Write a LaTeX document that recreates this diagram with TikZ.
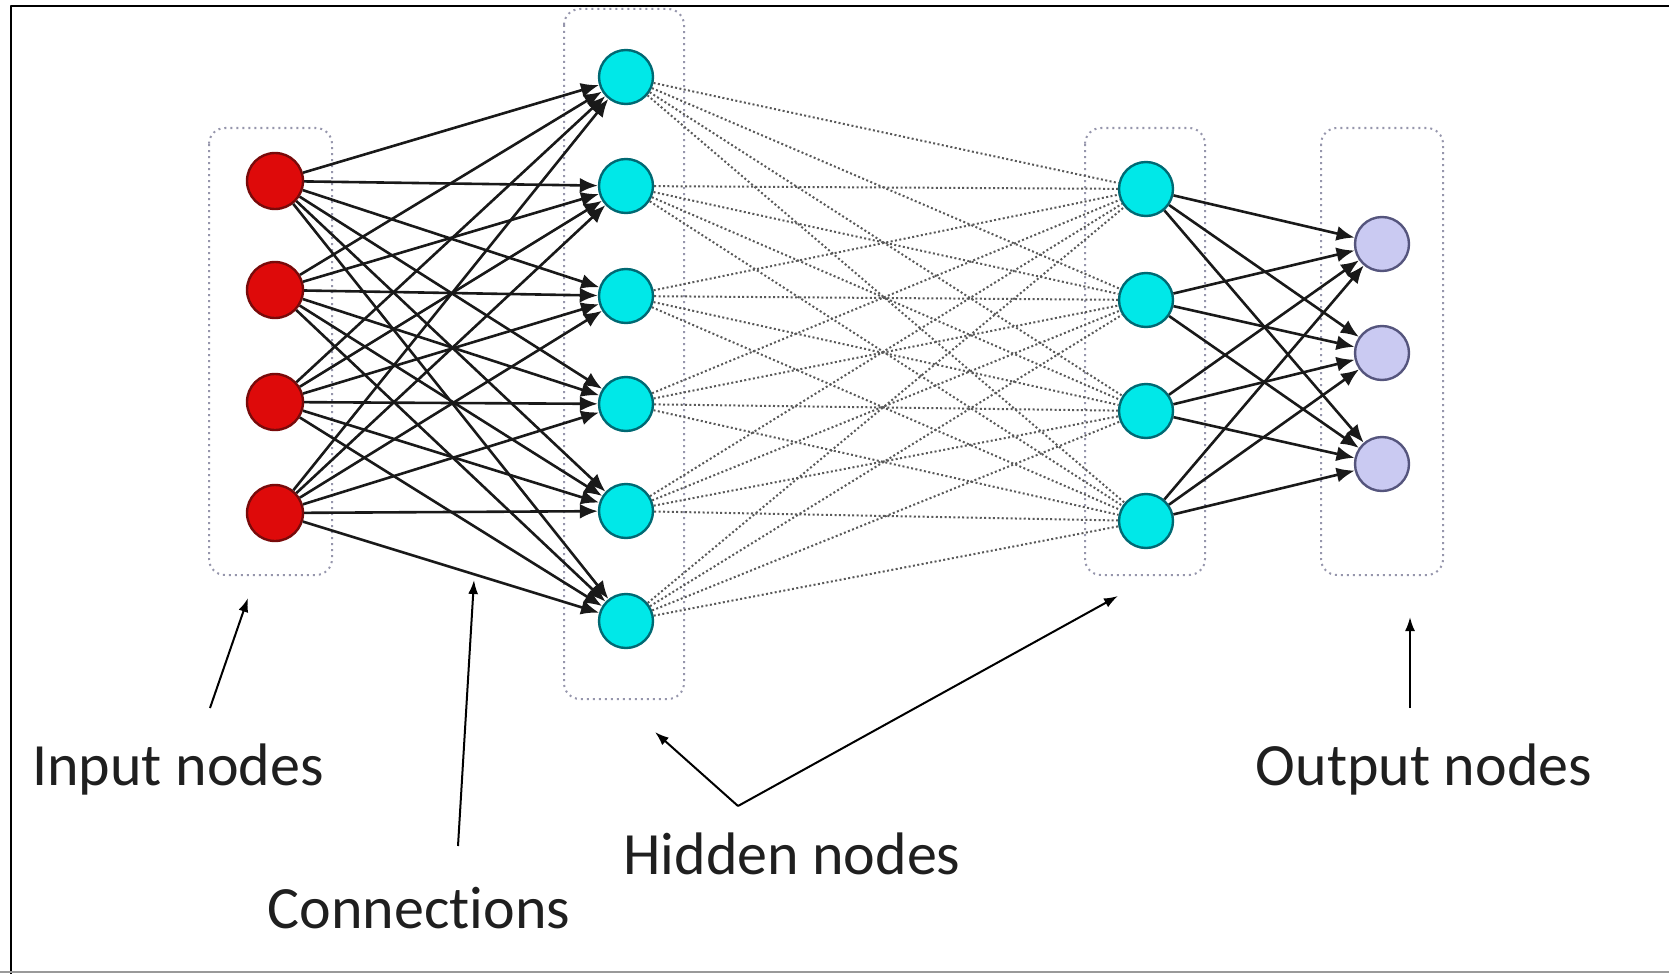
\documentclass[tikz,border=0pt]{standalone}
\usepackage{fontspec}
\setmainfont[Ligatures=NoCommon]{Carlito}
\usetikzlibrary{arrows.meta}

\definecolor{inred}{RGB}{222,10,10}
\definecolor{inredd}{RGB}{120,10,10}
\definecolor{hidcyan}{RGB}{0,232,232}
\definecolor{hidcyand}{RGB}{0,105,115}
\definecolor{outlav}{RGB}{202,202,242}
\definecolor{outlavd}{RGB}{85,85,125}
\definecolor{boxgray}{RGB}{150,150,172}

\tikzset{
  neuron/.style={circle,draw,line width=1.2pt,minimum size=27pt,inner sep=0pt},
  innode/.style={neuron,fill=inred,draw=inredd,minimum size=28pt},
  hidnode/.style={neuron,fill=hidcyan,draw=hidcyand},
  outnode/.style={neuron,fill=outlav,draw=outlavd},
  layerbox/.style={draw=boxgray,line width=1pt,dotted,rounded corners=8pt},
  conn/.style={line width=1.3pt,black!90,-{Latex[length=9pt,width=7.5pt]}},
  weakconn/.style={line width=1pt,black!65,dash pattern=on 1pt off 1.2pt},
  pointer/.style={line width=1pt,-{Latex[length=7pt,width=5pt]}},
  lbl/.style={font=\fontsize{30}{36}\selectfont,text=black!88}
}

\begin{document}
\begin{tikzpicture}[x=0.5pt,y=-0.5pt,line join=round]
\useasboundingbox (0,0) rectangle (1669,974);
% frame
\draw[line width=1.4pt] (11,974) -- (11,6) -- (1669,6);
\draw[line width=1.2pt,black!40] (0,972) -- (1669,972);

% layer boxes
\draw[layerbox] (209,128) rectangle (332,575);
\draw[layerbox] (564,9) rectangle (684,699);
\draw[layerbox] (1085,128) rectangle (1205,575);
\draw[layerbox] (1321,128) rectangle (1443,575);

% nodes
\foreach \i/\y in {1/181,2/290,3/402,4/513}
  \node[innode] (in\i) at (275,\y) {};
\foreach \i/\y in {1/77,2/186,3/296,4/404,5/511,6/621}
  \node[hidnode] (ha\i) at (626,\y) {};
\foreach \i/\y in {1/189,2/300,3/411,4/521}
  \node[hidnode] (hb\i) at (1146,\y) {};
\foreach \i/\y in {1/244,2/353,3/464}
  \node[outnode] (out\i) at (1382,\y) {};

% connections
\foreach \i in {1,...,6}
  \foreach \j in {1,...,4}
    \draw[weakconn] (ha\i) -- (hb\j);
\foreach \i in {1,...,4}
  \foreach \j in {1,...,6}
    \draw[conn] (in\i) -- (ha\j);
\foreach \i in {1,...,4}
  \foreach \j in {1,...,3}
    \draw[conn] (hb\i) -- (out\j);

% labels
\node[lbl] (linput) at (178,769) {Input nodes};
\node[lbl] (lconn) at (419,908) {Connections};
\node[lbl] (lhidden) at (792,854) {Hidden nodes};
\node[lbl] (loutput) at (1424,769) {Output nodes};

\coordinate (pinput) at (248,598);
\coordinate (pconn) at (474,580);
\coordinate (phida) at (655,732);
\coordinate (phidb) at (1118,596);
\coordinate (pout) at (1410,617);
\coordinate (hidfoot) at (738,806);

\draw[pointer] (210,708) -- (pinput);
\draw[pointer] (458,846) -- (pconn);
\draw[pointer] (hidfoot) -- (phida);
\draw[pointer] (hidfoot) -- (phidb);
\draw[pointer] (1410,708) -- (pout);
\end{tikzpicture}
\end{document}
